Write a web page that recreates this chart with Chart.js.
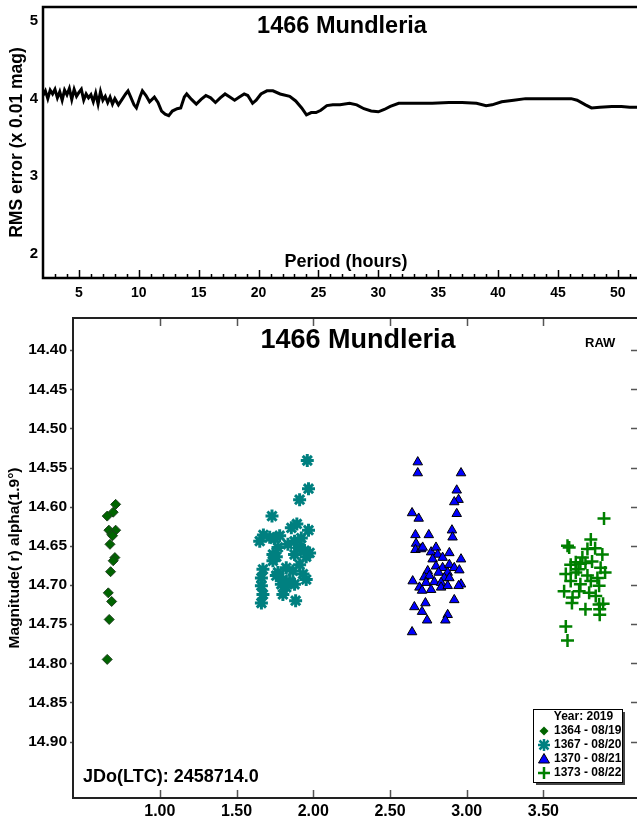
<!DOCTYPE html>
<html lang="en">
<head>
  <meta charset="UTF-8">
  <title>1466 Mundleria</title>
  <script src="https://cdn.jsdelivr.net/npm/chart.js"></script>
  <style>
    body { margin: 0; background: #fff; }
    #wrap { position: relative; width: 637px; height: 821px; overflow: hidden; }
    canvas { position: absolute; left: 0; }
    #periodCanvas { top: 0; }
    #lightCanvas { top: 300px; }
  </style>
</head>
<body>
  <div id="wrap">
    <canvas id="periodCanvas" width="637" height="300"></canvas>
    <canvas id="lightCanvas" width="637" height="521"></canvas>
  </div>

  <script>
    // ---- period spectrum (RMS error vs period) ----
    const periods = [
      2.0, 2.2, 2.4, 2.6, 2.8, 3.0, 3.2, 3.4, 3.6, 3.8,
      4.0, 4.2, 4.4, 4.6, 4.8, 5.0, 5.2, 5.4, 5.6, 5.8,
      6.0, 6.2, 6.4, 6.6, 6.8, 7.0, 7.2, 7.4, 7.6, 7.8, 8.0,
      8.3, 8.6, 8.9, 9.1, 9.3, 9.6, 9.8, 10.1, 10.3, 10.6, 10.9, 11.3, 11.6, 11.9,
      12.2, 12.5, 12.8, 13.2, 13.5, 13.8, 14.0, 14.4, 14.8, 15.2, 15.6, 16.0, 16.4,
      16.8, 17.2, 17.6, 18.0, 18.4, 18.8, 19.1, 19.5, 19.8, 20.2, 20.7, 21.2, 21.8,
      22.6, 23.1, 23.6, 24.0, 24.4, 24.8, 25.2, 25.7, 26.2, 26.8, 27.6, 28.2, 28.8,
      29.4, 30.0, 30.5, 31.0, 31.7, 33.0, 34.5, 35.9, 37.0, 38.2, 39.0, 39.5, 40.3,
      41.3, 42.3, 44.0, 46.1, 46.6, 47.3, 47.8, 48.5, 49.5, 50.3, 51.0, 51.6
    ];
    const rmsError = [
      4.04, 4.10, 4.00, 4.11, 4.06, 4.12, 4.01, 4.09, 3.98, 4.11,
      4.05, 4.13, 3.99, 4.12, 4.03, 4.08, 4.12, 3.98, 4.06, 4.01,
      4.05, 3.96, 4.07, 3.93, 4.09, 3.98, 4.03, 3.95, 4.02, 3.93, 4.00,
      3.92, 3.99, 4.06, 4.10, 4.03, 3.92, 3.88, 4.02, 4.10, 4.04, 3.96, 4.02, 3.95, 3.84,
      3.80, 3.78, 3.84, 3.87, 3.88, 4.02, 4.06, 3.99, 3.93, 3.99, 4.04, 4.01, 3.95,
      4.01, 4.06, 4.02, 3.98, 4.02, 4.06, 4.04, 3.94, 3.98, 4.06, 4.10, 4.10, 4.06,
      4.03, 3.97, 3.88, 3.79, 3.82, 3.82, 3.85, 3.91, 3.92, 3.92, 3.94, 3.92, 3.87,
      3.84, 3.83, 3.86, 3.90, 3.94, 3.94, 3.94, 3.95, 3.95, 3.94, 3.91, 3.92, 3.96,
      3.98, 4.00, 4.00, 4.00, 3.98, 3.92, 3.88, 3.89, 3.90, 3.90, 3.89, 3.89
    ];
    const periodTicks = [5, 10, 15, 20, 25, 30, 35, 40, 45, 50];
    const rmsTicks = [2, 3, 4, 5];

    // ---- lightcurve (magnitude vs time) ----
    const sessions = ['1364 - 08/19', '1367 - 08/20', '1370 - 08/21', '1373 - 08/22'];
    const s1364x = [0.712, 0.696, 0.657, 0.668, 0.712, 0.686, 0.692, 0.675, 0.707, 0.696, 0.679, 0.664, 0.686, 0.670, 0.657];
    const s1364y = [14.597, 14.607, 14.612, 14.630, 14.630, 14.635, 14.637, 14.648, 14.665, 14.669, 14.683, 14.710, 14.721, 14.744, 14.795];
    const s1367x = [1.961, 1.969, 1.911, 1.731, 1.969, 1.675, 1.651, 1.893, 1.857, 1.781, 1.748, 1.922, 1.878, 1.770,
                    1.737, 1.943, 1.878, 1.976, 1.737, 1.911, 1.672, 1.770, 1.867, 1.933, 1.662, 1.802, 1.846, 1.954,
                    1.759, 1.792, 1.878, 1.662, 1.824, 1.672, 1.802, 1.885, 1.662, 1.716, 1.835, 1.911, 1.824, 1.759, 1.954];
    const s1367y = [14.541, 14.577, 14.591, 14.612, 14.630, 14.636, 14.644, 14.622, 14.627, 14.637, 14.641, 14.640, 14.644, 14.652,
                    14.661, 14.656, 14.661, 14.659, 14.669, 14.674, 14.680, 14.684, 14.682, 14.686, 14.691, 14.693, 14.695, 14.693,
                    14.688, 14.699, 14.699, 14.701, 14.703, 14.712, 14.712, 14.720, 14.723, 14.639, 14.648, 14.652, 14.678, 14.664, 14.664];
    const s1370x = [2.681, 2.681, 2.963, 2.935, 2.947, 2.919, 2.935, 2.644, 2.687, 2.904, 2.908, 2.666, 2.753, 2.670,
                    2.666, 2.703, 2.713, 2.768, 2.800, 2.811, 2.843, 2.778, 2.887, 2.963, 2.800, 2.843, 2.887, 2.919,
                    2.746, 2.817, 2.952, 2.876, 2.724, 2.757, 2.854, 2.887, 2.648, 2.735, 2.789, 2.833, 2.963, 2.692,
                    2.768, 2.833, 2.876, 2.709, 2.947, 2.919, 2.659, 2.731, 2.709, 2.876, 2.742, 2.861, 2.644];
    const s1370y = [14.543, 14.557, 14.557, 14.579, 14.591, 14.594, 14.609, 14.608, 14.615, 14.630, 14.639, 14.636, 14.636, 14.647,
                    14.655, 14.654, 14.652, 14.658, 14.652, 14.661, 14.665, 14.667, 14.659, 14.667, 14.676, 14.678, 14.674, 14.678,
                    14.682, 14.684, 14.681, 14.684, 14.690, 14.688, 14.691, 14.691, 14.695, 14.697, 14.696, 14.697, 14.699, 14.703,
                    14.706, 14.703, 14.701, 14.707, 14.701, 14.719, 14.728, 14.723, 14.734, 14.738, 14.745, 14.745, 14.760];
    const s1373x = [3.895, 3.809, 3.657, 3.668, 3.787, 3.837, 3.884, 3.754, 3.711, 3.678, 3.741, 3.774, 3.817, 3.728,
                    3.873, 3.902, 3.646, 3.711, 3.787, 3.852, 3.678, 3.741, 3.809, 3.863, 3.635, 3.733, 3.798, 3.690,
                    3.841, 3.686, 3.774, 3.863, 3.889, 3.867, 3.867, 3.646, 3.657];
    const s1373y = [14.615, 14.642, 14.650, 14.652, 14.654, 14.653, 14.661, 14.665, 14.671, 14.674, 14.673, 14.672, 14.670, 14.680,
                    14.678, 14.684, 14.686, 14.684, 14.688, 14.691, 14.695, 14.699, 14.695, 14.701, 14.708, 14.708, 14.710, 14.716,
                    14.714, 14.723, 14.731, 14.725, 14.724, 14.731, 14.738, 14.753, 14.771];
    const timeTicks = [1.0, 1.5, 2.0, 2.5, 3.0, 3.5];
    const magTicks = [14.40, 14.45, 14.50, 14.55, 14.60, 14.65, 14.70, 14.75, 14.80, 14.85, 14.90];

    const FONT = '"Liberation Sans", Arial, sans-serif';
    const pts = (xs, ys) => xs.map((x, i) => ({ x: x, y: ys[i] }));
    const fixTicks = list => scale => { scale.ticks = list.map(v => ({ value: v })); };
    // fixed axis box, no extra padding for overhanging labels
    const fitX = h => s => { s.height = h; s.paddingLeft = 0; s.paddingRight = 0; };
    const fitY = w => s => { s.width = w; s.paddingTop = 0; s.paddingBottom = 0; };

    // frame lines + inward tick marks, drawn from the scales
    const frame = {
      id: 'frame',
      afterDraw(chart, args, o) {
        const { ctx, chartArea: a, scales } = chart;
        ctx.save();
        ctx.strokeStyle = o.tickColor;
        ctx.lineWidth = 1.5;
        ctx.beginPath();
        (o.minorX || []).forEach(v => {
          const px = Math.round(scales.x.getPixelForValue(v)) + 0.5;
          ctx.moveTo(px, a.bottom); ctx.lineTo(px, a.bottom - o.minorLen);
        });
        scales.x.ticks.forEach(t => {
          const px = Math.round(scales.x.getPixelForValue(t.value)) + 0.5;
          ctx.moveTo(px, a.bottom); ctx.lineTo(px, a.bottom - o.majorLen);
          if (o.topTicks) { ctx.moveTo(px, a.top); ctx.lineTo(px, a.top + o.majorLen); }
        });
        if (o.rightTicks) {
          scales.y.ticks.forEach(t => {
            const py = Math.round(scales.y.getPixelForValue(t.value)) + 0.5;
            ctx.moveTo(a.right, py); ctx.lineTo(a.right - 6, py);
            ctx.moveTo(a.left, py); ctx.lineTo(a.left - 3, py);
          });
        }
        ctx.stroke();
        ctx.strokeStyle = o.frameColor;
        ctx.lineWidth = o.frameWidth;
        ctx.beginPath();
        ctx.moveTo(a.right, a.top); ctx.lineTo(a.left, a.top);
        ctx.lineTo(a.left, a.bottom); ctx.lineTo(a.right, a.bottom);
        ctx.stroke();
        ctx.restore();
      }
    };

    // texts written inside the plot
    const labels = {
      id: 'labels',
      afterDraw(chart, args, o) {
        const { ctx, chartArea: a } = chart;
        ctx.save();
        ctx.fillStyle = '#000';
        o.items.forEach(it => {
          ctx.font = 'bold ' + it.size + 'px ' + FONT;
          ctx.textAlign = it.align;
          ctx.textBaseline = 'middle';
          const x = it.x === 'center' ? (a.left + a.right) / 2 + (it.dx || 0) : it.x;
          ctx.fillText(it.text, x, it.y);
        });
        ctx.restore();
      }
    };

    function drawMarker(ctx, style, x, y) {
      ctx.beginPath();
      if (style === 'rectRot') {
        ctx.moveTo(x, y - 4.5); ctx.lineTo(x + 4.5, y); ctx.lineTo(x, y + 4.5); ctx.lineTo(x - 4.5, y); ctx.closePath();
        ctx.fillStyle = '#006400'; ctx.fill();
      } else if (style === 'star') {
        ctx.strokeStyle = '#008080'; ctx.lineWidth = 2.5;
        ctx.moveTo(x - 6, y); ctx.lineTo(x + 6, y);
        ctx.moveTo(x - 4.5, y - 4.5); ctx.lineTo(x + 4.5, y + 4.5);
        ctx.moveTo(x - 4.5, y + 4.5); ctx.lineTo(x + 4.5, y - 4.5);
        ctx.moveTo(x, y - 6); ctx.lineTo(x, y + 6);
        ctx.stroke();
      } else if (style === 'triangle') {
        ctx.moveTo(x, y - 5.5); ctx.lineTo(x + 5.5, y + 4); ctx.lineTo(x - 5.5, y + 4); ctx.closePath();
        ctx.fillStyle = '#0000ff'; ctx.fill();
        ctx.strokeStyle = '#000'; ctx.lineWidth = 1; ctx.stroke();
      } else {
        ctx.strokeStyle = '#008000'; ctx.lineWidth = 2.5;
        ctx.moveTo(x - 6, y); ctx.lineTo(x + 6, y);
        ctx.moveTo(x, y - 6); ctx.lineTo(x, y + 6);
        ctx.stroke();
      }
    }

    const boxLegend = {
      id: 'boxLegend',
      afterDraw(chart, args, o) {
        const ctx = chart.ctx;
        const bx = 533, by = 409, bw = 89, bh = 73;
        ctx.save();
        ctx.fillStyle = '#444';
        ctx.fillRect(bx + 3, by + 3, bw, bh);
        ctx.fillStyle = '#fff';
        ctx.fillRect(bx, by, bw, bh);
        ctx.strokeStyle = '#000'; ctx.lineWidth = 1;
        ctx.strokeRect(bx + 0.5, by + 0.5, bw, bh);
        ctx.fillStyle = '#000';
        ctx.font = 'bold 12px ' + FONT;
        ctx.textBaseline = 'middle';
        ctx.textAlign = 'center';
        ctx.fillText(o.title, bx + bw / 2 + 6, by + 8);
        ctx.textAlign = 'left';
        chart.data.datasets.forEach((ds, i) => {
          const y = by + 22 + i * 14;
          ctx.save();
          drawMarker(ctx, ds.pointStyle, bx + 11, y);
          ctx.restore();
          ctx.fillStyle = '#000';
          ctx.fillText(ds.label, bx + 21, y);
        });
        ctx.restore();
      }
    };

    const tickFont = size => ({ family: FONT, size: size, weight: 'bold' });

    // minor ticks every hour on the period axis
    const minorPeriods = [];
    for (let p = 3; p <= 51; p++) if (p % 5 !== 0) minorPeriods.push(p);

    new Chart(document.getElementById('periodCanvas'), {
      type: 'line',
      data: {
        datasets: [{
          data: pts(periods, rmsError),
          borderColor: '#000',
          borderWidth: 3,
          pointRadius: 0,
          tension: 0,
          fill: false
        }]
      },
      options: {
        responsive: false,
        animation: false,
        devicePixelRatio: 1,
        layout: { autoPadding: false, padding: { top: 7, right: 0, left: 0, bottom: 0 } },
        plugins: {
          legend: { display: false },
          tooltip: { enabled: false },
          frame: { tickColor: '#000', minorX: minorPeriods, minorLen: 4, majorLen: 8, frameColor: '#000', frameWidth: 2.5 },
          labels: { items: [
            { text: '1466 Mundleria', size: 23.5, align: 'center', x: 'center', dx: 2, y: 27 },
            { text: 'Period (hours)', size: 18, align: 'center', x: 'center', dx: 6, y: 262 }
          ] }
        },
        scales: {
          x: {
            type: 'linear', min: 2.0, max: 51.6,
            afterBuildTicks: fixTicks(periodTicks),
            afterFit: fitX(22),
            grid: { display: false, drawTicks: false },
            border: { display: false },
            ticks: { color: '#000', font: tickFont(14), padding: 7, maxRotation: 0 }
          },
          y: {
            min: 1.69, max: 5.18,
            afterBuildTicks: fixTicks(rmsTicks),
            afterFit: fitY(43),
            grid: { display: false, drawTicks: false },
            border: { display: false },
            ticks: { color: '#000', font: tickFont(15), padding: 5 },
            title: {
              display: true, text: 'RMS error (x 0.01 mag)', color: '#000',
              font: { family: FONT, size: 17.5, weight: 'bold', lineHeight: 1.2 },
              padding: { top: 6.5, bottom: 0 }
            }
          }
        }
      },
      plugins: [frame, labels]
    });

    new Chart(document.getElementById('lightCanvas'), {
      type: 'scatter',
      data: {
        datasets: [
          { label: sessions[0], data: pts(s1364x, s1364y), pointStyle: 'rectRot', pointRadius: 5,
            backgroundColor: '#006400', borderColor: '#1f3f1f', borderWidth: 1 },
          { label: sessions[1], data: pts(s1367x, s1367y), pointStyle: 'star', pointRadius: 6.5,
            backgroundColor: '#008080', borderColor: '#008080', borderWidth: 3 },
          { label: sessions[2], data: pts(s1370x, s1370y), pointStyle: 'triangle', pointRadius: 5.5,
            backgroundColor: '#0000ff', borderColor: '#000', borderWidth: 1 },
          { label: sessions[3], data: pts(s1373x, s1373y), pointStyle: 'cross', pointRadius: 6.5,
            backgroundColor: '#008000', borderColor: '#008000', borderWidth: 2.5 }
        ]
      },
      options: {
        responsive: false,
        animation: false,
        devicePixelRatio: 1,
        layout: { autoPadding: false, padding: { top: 18, right: 0, left: 0, bottom: 0 } },
        plugins: {
          legend: { display: false },
          tooltip: { enabled: false },
          frame: { tickColor: '#555', majorLen: 8, topTicks: true, rightTicks: true, frameColor: '#222', frameWidth: 2 },
          labels: { items: [
            { text: '1466 Mundleria', size: 27, align: 'center', x: 'center', dx: 3, y: 41 },
            { text: 'RAW', size: 13, align: 'left', x: 585, y: 43 },
            { text: 'JDo(LTC): 2458714.0', size: 18, align: 'left', x: 83, y: 477 }
          ] },
          boxLegend: { title: 'Year: 2019' }
        },
        scales: {
          x: {
            type: 'linear', min: 0.434, max: 4.11,
            afterBuildTicks: fixTicks(timeTicks),
            afterFit: fitX(23),
            grid: { display: false, drawTicks: false },
            border: { display: false },
            ticks: { color: '#000', font: tickFont(16), padding: 4, maxRotation: 0,
                      callback: v => Number(v).toFixed(2) }
          },
          y: {
            reverse: true, min: 14.359, max: 14.972,
            afterBuildTicks: fixTicks(magTicks),
            afterFit: fitY(73),
            grid: { display: false, drawTicks: false },
            border: { display: false },
            ticks: { color: '#000', font: tickFont(15.5), padding: 6,
                      callback: v => Number(v).toFixed(2) },
            title: {
              display: true, text: 'Magnitude( r) alpha(1.9°)', color: '#000',
              font: { family: FONT, size: 15.5, weight: 'bold', lineHeight: 1.2 },
              padding: { top: 5.5, bottom: 0 }
            }
          }
        }
      },
      plugins: [frame, labels, boxLegend]
    });
  </script>
</body>
</html>
